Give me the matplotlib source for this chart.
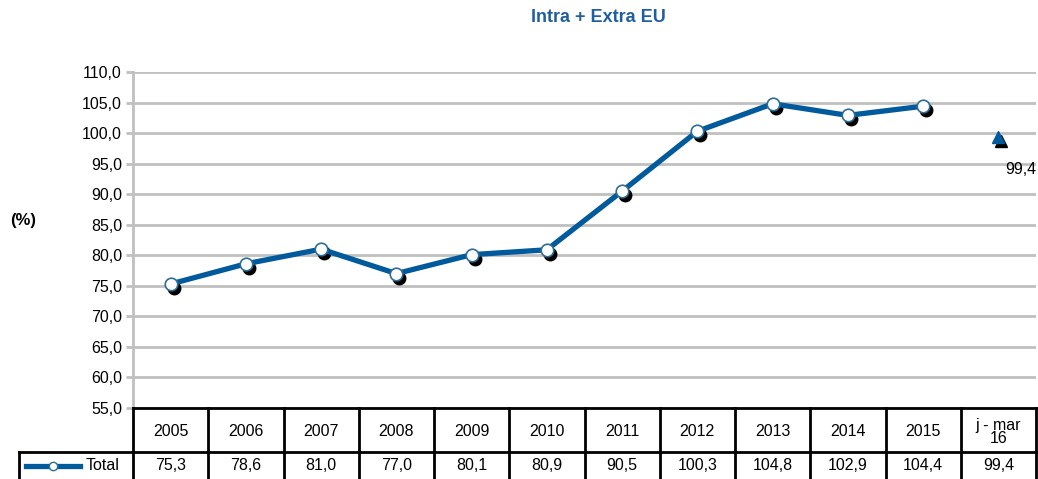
import matplotlib.pyplot as plt
import matplotlib.transforms as mtransforms
from matplotlib.lines import Line2D

plt.rcParams['font.family'] = ['Liberation Sans', 'DejaVu Sans']

# data
periods = ['2005', '2006', '2007', '2008', '2009', '2010', '2011',
           '2012', '2013', '2014', '2015', 'j - mar\n16']
totals = [75.3, 78.6, 81.0, 77.0, 80.1, 80.9, 90.5,
          100.3, 104.8, 102.9, 104.4, 99.4]
n_years = 11  # annual points joined by the line, last one is partial year

blue = '#005a9c'
grid_col = '#c0c0c0'
fs = 11.5

W, H = 1038, 479
fig = plt.figure(figsize=(W / 100, H / 100), dpi=100)

# plot area in pixel terms
x0, x1 = 133, 1036
y_top, y_bot = 72, 408
ax = fig.add_axes([x0 / W, (H - y_bot) / H, (x1 - x0) / W, (y_bot - y_top) / H])
ax.set_xlim(-0.5, len(periods) - 0.5)
ax.set_ylim(55, 110)
ax.set_yticks(range(55, 111, 5))
ax.set_yticklabels([f'{v:.1f}'.replace('.', ',') for v in range(55, 111, 5)], fontsize=fs)
ax.set_xticks([])
ax.yaxis.grid(True, color=grid_col, linewidth=2)
ax.set_axisbelow(True)
for s in ['top', 'right', 'bottom']:
    ax.spines[s].set_visible(False)
ax.spines['left'].set_color(grid_col)
ax.spines['left'].set_linewidth(2)
ax.tick_params(axis='y', color=grid_col, width=2, length=5, pad=3)

xs = list(range(len(periods)))
shadow = mtransforms.offset_copy(ax.transData, fig=fig, x=3, y=-4, units='dots')

# shadows
ax.plot(xs[:n_years], totals[:n_years], 'o', color='black', markersize=9,
        transform=shadow, zorder=2)
ax.plot(xs[n_years:], totals[n_years:], '^', color='black', markersize=9,
        transform=shadow, zorder=2)

# main series
ax.plot(xs[:n_years], totals[:n_years], '-o', color=blue, linewidth=3.8,
        markersize=9, markerfacecolor='white', markeredgecolor='#2f6d94',
        markeredgewidth=1.2, zorder=3)
ax.plot(xs[n_years:], totals[n_years:], '^', color=blue, markersize=9, zorder=3)
ax.annotate(f'{totals[-1]:.1f}'.replace('.', ','), (xs[-1], totals[-1]),
            xytext=(22, -33), textcoords='offset pixels', fontsize=fs,
            ha='center', va='center', annotation_clip=False)

fig.text(598 / W, 1 - 17 / H, 'Intra + Extra EU', color='#1f5fa0',
         fontsize=13, fontweight='bold', ha='center', va='center')
fig.text(23 / W, 1 - 220 / H, '(%)', fontsize=12, fontweight='bold',
         ha='center', va='center')

# data table below the plot, drawn in pixel coordinates
tab = fig.add_axes([0, 0, 1, 1], facecolor='none')
tab.set_xlim(0, W)
tab.set_ylim(H, 0)
tab.axis('off')
col_w = (x1 - x0) / len(periods)
row_mid = 452
lw = 2
tab.plot([x0, x1], [y_bot, y_bot], color='black', lw=lw)
tab.plot([19, x1], [row_mid, row_mid], color='black', lw=lw)
tab.plot([19, 19], [row_mid, H], color='black', lw=lw)
for i in range(len(periods) + 1):
    xb = x0 + i * col_w
    tab.plot([xb, xb], [y_bot, H], color='black', lw=lw)
for i, (p, v) in enumerate(zip(periods, totals)):
    xc = x0 + (i + 0.5) * col_w
    tab.text(xc, (y_bot + row_mid) / 2 + 2, p, fontsize=fs, ha='center',
             va='center', linespacing=0.9)
    tab.text(xc, 466, f'{v:.1f}'.replace('.', ','), fontsize=fs,
             ha='center', va='center')

# legend key in the row header
tab.add_line(Line2D([26, 80], [466, 466], color=blue, lw=3.8))
tab.plot([53], [466], 'o', markersize=6, markerfacecolor='white',
         markeredgecolor='#2f6d94', markeredgewidth=1)
tab.text(86, 466, 'Total', fontsize=fs, ha='left', va='center')

fig.savefig('out.png', dpi=100)
